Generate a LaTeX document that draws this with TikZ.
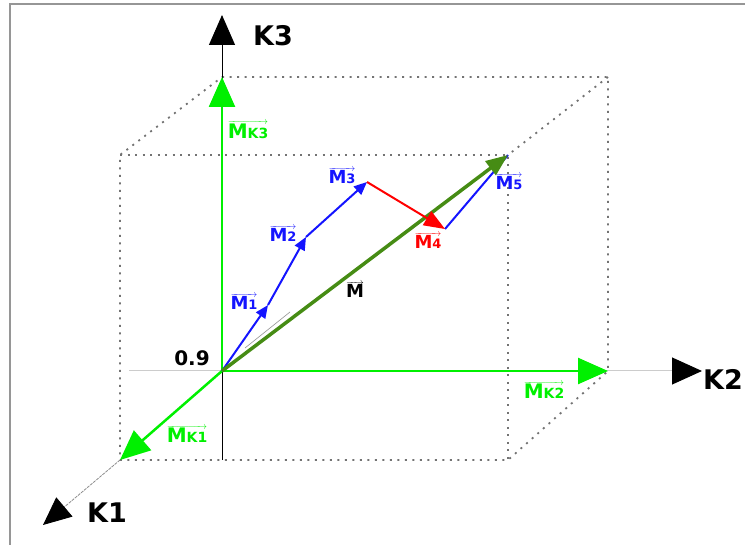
\documentclass[tikz,border=0pt]{standalone}
\usepackage{fontspec}
\setmainfont{DejaVu Sans}
\usetikzlibrary{positioning,arrows.meta}
\definecolor{kgreen}{RGB}{0,240,0}
\definecolor{mgreen}{RGB}{70,140,20}
\definecolor{mblue}{RGB}{20,20,255}
\definecolor{mred}{RGB}{255,0,0}
\definecolor{framegray}{RGB}{150,150,150}
\newcommand\mlab[1]{$\overrightarrow{\hbox{\bfseries\fontsize{18}{18}\selectfont M\fontsize{13}{13}\selectfont #1}}$}
\newcommand\mklab[1]{$\overrightarrow{\hbox{\bfseries\fontsize{20}{20}\selectfont M\fontsize{14}{14}\selectfont K#1}}$}

\begin{document}
\begin{tikzpicture}[
    x=1pt, y=-1pt,
    axis/.style={
        line width=1pt
    },
    boxline/.style={
        draw=black!55,
        line width=1.8pt,
        dash pattern=on 2pt off 5.5pt
    },
    kvec/.style={
        draw=kgreen,
        line width=2.5pt,
        -{Triangle[length=30pt,width=26pt]}
    },
    mvec/.style={
        draw=mblue,
        line width=2pt,
        -{Triangle[length=13pt,width=11pt]}
    },
    axlabel/.style={
        font=\bfseries\fontsize{27}{27}\selectfont,
        inner sep=0pt,
        anchor=west
    },
    vlabel/.style={
        inner sep=0pt
    }
]
\useasboundingbox (0,0) rectangle (745,545);

% ============================================================
% FRAME
% ============================================================

\draw[framegray, line width=2.5pt] (10,545) -- (10,4) -- (745,4);

% ============================================================
% POINTS
% ============================================================

\coordinate (O) at (222,371);
\coordinate (btl) at (222,77);
\coordinate (btr) at (608,77);
\coordinate (ftl) at (120,155);
\coordinate (ftr) at (508,155);
\coordinate (fbl) at (120,460);
\coordinate (fbr) at (508,460);
\coordinate (bbr) at (608,371);

\coordinate (k1tip) at (43,525);
\coordinate (k2tail) at (129,371);
\coordinate (k2tip) at (702,371);
\coordinate (k3tail) at (222,460);
\coordinate (k3tip) at (222,15);

\coordinate (p1) at (268,305);
\coordinate (p2) at (306,237);
\coordinate (p3) at (367,182);
\coordinate (p4) at (445,229);

\coordinate (g1) at (245,348);
\coordinate (g2) at (290,312);

% ============================================================
% BOX
% ============================================================

\draw[boxline] (btl) -- (btr) -- (bbr) -- (fbr) -- (fbl) -- (ftl) -- (btl);
\draw[boxline] (ftl) -- (ftr) -- (fbr);
\draw[boxline] (btr) -- (ftr);

% ============================================================
% AXES
% ============================================================

\draw[axis, black, -{Triangle[length=30pt,width=26pt]}] (k3tail) -- (k3tip);
\draw[axis, black!20, -{Triangle[length=30pt,width=27pt,black]}] (k2tail) -- (k2tip);
\draw[black!45, line width=0.8pt, dash pattern=on 3pt off 1pt,
      -{Triangle[length=28pt,width=25pt,black]}] (fbl) -- (k1tip);

\node[axlabel] (k3) at (253,36) {K3};
\node[axlabel] (k2) at (703,379) {K2};
\node[axlabel] (k1) at (87,513) {K1};

% ============================================================
% COMPONENTS
% ============================================================

\draw[kvec] (O) -- (btl);
\draw[kvec] (O) -- (bbr);
\draw[kvec] (O) -- (fbl);

\node[vlabel, kgreen] (mk3) at (248,130) {\mklab{3}};
\node[vlabel, kgreen] (mk2) at (544,390) {\mklab{2}};
\node[vlabel, kgreen] (mk1) at (187,434) {\mklab{1}};

\node[font=\bfseries\fontsize{20}{20}\selectfont, inner sep=0pt] (val) at (192,358) {0.9};

% ============================================================
% MOMENTS
% ============================================================

\draw[black!40, line width=0.7pt] (g1) -- (g2);

\draw[mvec] (O) -- (p1);
\draw[mvec] (p1) -- (p2);
\draw[mvec] (p2) -- (p3);
\draw[mblue, line width=2pt] (p4) -- (ftr);

\draw[mgreen, line width=3.5pt, -{Triangle[length=22pt,width=17pt]}] (O) -- (ftr);

\draw[mred, line width=2pt, -{Triangle[length=21pt,width=16pt]}] (p3) -- (p4);

\node[vlabel, mblue] (m1) at (244,302) {\mlab{1}};
\node[vlabel, mblue] (m2) at (283,234) {\mlab{2}};
\node[vlabel, mblue] (m3) at (342,176) {\mlab{3}};
\node[vlabel, mred] (m4) at (428,241) {\mlab{4}};
\node[vlabel, mblue] (m5) at (509,182) {\mlab{5}};
\node[vlabel, black] (m) at (355,290) {\mlab{}};

\end{tikzpicture}
\end{document}
